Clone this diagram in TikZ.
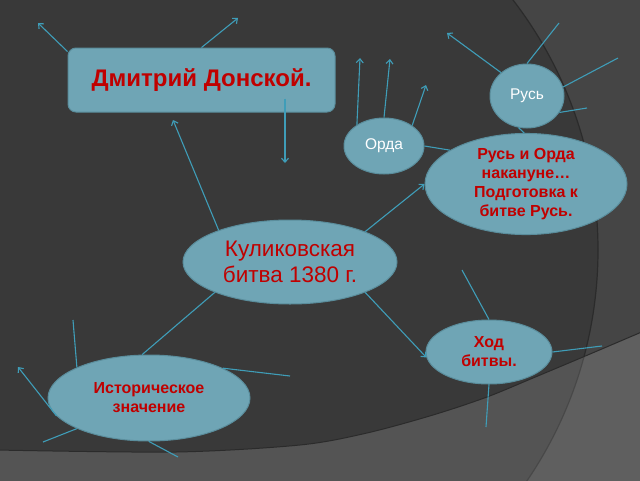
\documentclass[tikz,border=0pt]{standalone}
\usepackage{fontspec}
\setmainfont{Liberation Sans}
\usetikzlibrary{shapes.geometric,arrows.meta}
\definecolor{bgout}{HTML}{454545}
\definecolor{bgin}{HTML}{393939}
\definecolor{bgline}{HTML}{2B2B2B}
\definecolor{nodefill}{HTML}{6FA5B5}
\definecolor{nodeedge}{HTML}{5A8D9C}
\definecolor{conncol}{HTML}{3F9DB8}
\definecolor{txtred}{HTML}{C00000}
\begin{document}
\begin{tikzpicture}[x=1pt,y=-1pt,
  conn/.style={draw=conncol,line width=1.1pt},
  arr/.style={conn,-{Straight Barb[length=4pt,width=7pt]}},
  bubble/.style={ellipse,fill=nodefill,draw=nodeedge,line width=1pt,inner sep=0pt,align=center},
  boldred/.style={text=txtred,font=\fontsize{16}{19}\selectfont\bfseries},
  whitetxt/.style={text=white,font=\fontsize{15.5}{18}\selectfont}]
\useasboundingbox (0,0) rectangle (640,480);
% background
\begin{scope}
  \clip (-4,-4) rectangle (644,484);
  \fill[bgout] (-4,-4) rectangle (644,484);
  \filldraw[fill=bgin,draw=bgline,line width=1.2pt] (188,250) circle[radius=410pt];
  \fill[white,opacity=0.14] plot[smooth] coordinates {(-4,450) (176,452) (300,445) (367,433) (433,415) (487,397) (533,378) (583,357) (644,331)} -- (644,484) -- (-4,484) -- cycle;
  \draw[bgline,line width=1pt] plot[smooth] coordinates {(-4,450) (176,452) (300,445) (367,433) (433,415) (487,397) (533,378) (583,357) (644,331)};
\end{scope}
% nodes
\node[rectangle,rounded corners=8pt,fill=nodefill,draw=nodeedge,line width=1pt,
  minimum width=267pt,minimum height=64pt,inner sep=0pt,
  text=txtred,font=\fontsize{24}{28}\selectfont\bfseries] (dm) at (201.5,80) {Дмитрий Донской.};
\node[bubble,whitetxt,minimum width=74pt,minimum height=64pt] (rus) at (527,96) {Русь};
\node[bubble,whitetxt,minimum width=80pt,minimum height=56pt] (orda) at (384,146) {Орда};
\node[bubble,boldred,minimum width=202pt,minimum height=92pt] (rok) at (526,184) {Русь и Орда\\накануне…\\Подготовка к\\битве Русь.};
\node[bubble,text=txtred,font=\fontsize{22.5}{26}\selectfont,minimum width=214pt,minimum height=84pt] (kul) at (290,262) {Куликовская\\битва 1380 г.};
\node[bubble,boldred,minimum width=126pt,minimum height=64pt] (hod) at (489,352) {Ход\\битвы.};
\node[bubble,boldred,minimum width=202pt,minimum height=86pt] (ist) at (149,398) {Историческое\\значение};
% free ends
\coordinate (dmA) at (38,23);
\coordinate (dmB) at (238,18);
\coordinate (dmC) at (285,163);
\coordinate (kulA) at (173,120);
\coordinate (ordA) at (360,58);
\coordinate (ordB) at (390,59);
\coordinate (ordC) at (426,85);
\coordinate (rusA) at (447,33);
\coordinate (rusB) at (559,23);
\coordinate (rusC) at (618,58);
\coordinate (rusD) at (587,108);
\coordinate (hodA) at (462,270);
\coordinate (hodB) at (602,346);
\coordinate (hodC) at (486,427);
\coordinate (istA) at (73,320);
\coordinate (istB) at (290,376);
\coordinate (istC) at (18,367);
\coordinate (istD) at (43,442);
\coordinate (istE) at (178,457);
% connectors
\draw[arr] (dm.168) -- (dmA);
\draw[arr] (dm.north) -- (dmB);
\draw[arr] (dm.south -| dmC) ++(0,-14) -- (dmC);
\draw[arr] (kul.156) -- (kulA);
\draw[arr] (orda.142) -- (ordA);
\draw[arr] (orda.north) -- (ordB);
\draw[arr] (orda.36) -- (ordC);
\draw[conn] (orda.east) -- (rok.156);
\draw[arr] (rus.138) -- (rusA);
\draw[conn] (rus.north) -- (rusB);
\draw[conn] (rus.14) -- (rusC);
\draw[conn] (rus.-27) -- (rusD);
\draw[conn] (rus.255) -- (rok.92);
\draw[arr] (kul.22) -- (rok.west);
\draw[arr] (kul.-22) -- (hod.185);
\draw[conn] (kul.202) -- (ist.99);
\draw[conn] (hod.north) -- (hodA);
\draw[conn] (hod.east) -- (hodB);
\draw[conn] (hod.south) -- (hodC);
\draw[conn] (ist.157) -- (istA);
\draw[conn] (ist.22) -- (istB);
\draw[arr] (ist.191) -- (istC);
\draw[conn] (ist.203) -- (istD);
\draw[conn] (ist.south) -- (istE);
\end{tikzpicture}
\end{document}
